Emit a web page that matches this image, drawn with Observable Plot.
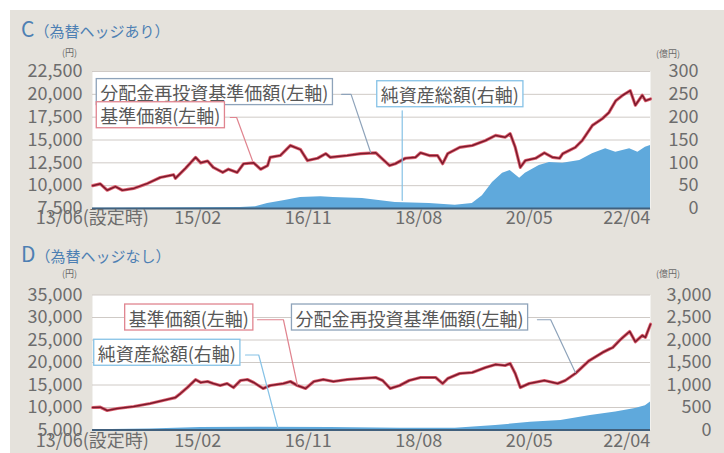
<!DOCTYPE html>
<html><head><meta charset="utf-8">
<script src="https://cdn.jsdelivr.net/npm/d3@7"></script>
<script src="https://cdn.jsdelivr.net/npm/@observablehq/plot@0.6"></script>
<style>
body{margin:0;background:#fff;font-family:"Noto Sans CJK JP","Noto Sans",sans-serif;}
#fig{position:relative;width:724px;height:453px;overflow:hidden;background:#fff}
.layer{position:absolute;left:0;top:0}
.t{position:absolute;white-space:nowrap;line-height:1}
.u{position:absolute;font-size:9px;color:#6a6a6a;line-height:12px;white-space:nowrap}
</style></head>
<body>
<div id="fig">
  <div style="position:absolute;left:10px;top:10px;right:0;bottom:0;background:#e5e2dc"></div>
  <div id="pc" style="position:absolute;left:0;top:0;width:724px;height:230px"></div>
  <div id="pd" style="position:absolute;left:0;top:230px;width:724px;height:223px"></div>
  <div class="t" style="left:21px;top:18px;color:#4d7fb3"><span style="font-size:21px">C</span><span style="font-size:15px">（為替ヘッジあり）</span></div>
  <div class="t" style="left:21px;top:243px;color:#4d7fb3"><span style="font-size:21px">D</span><span style="font-size:15px">（為替ヘッジなし）</span></div>
  <div class="u" style="left:62px;top:47px">(円)</div>
  <div class="u" style="left:656px;top:48px">(億円)</div>
  <div class="u" style="left:62px;top:268px">(円)</div>
  <div class="u" style="left:656px;top:268px">(億円)</div>
</div>
<script>
// ---- data (dates as decimal years) ----
const cNavT = [2013.42,2013.54,2013.65,2013.78,2013.89,2014.07,2014.29,2014.49,2014.70,2014.73,2014.89,2015.05,2015.13,2015.24,2015.33,2015.48,2015.57,2015.71,2015.81,2015.97,2016.08,2016.19,2016.23,2016.39,2016.55,2016.71,2016.82,2016.98,2017.11,2017.18,2017.45,2017.66,2017.90,2018.12,2018.21,2018.37,2018.53,2018.61,2018.75,2018.88,2018.96,2019.04,2019.23,2019.43,2019.64,2019.80,2019.95,2020.03,2020.11,2020.19,2020.27,2020.43,2020.57,2020.70,2020.81,2020.86,2021.06,2021.17,2021.33,2021.49,2021.59,2021.70,2021.81,2021.93,2022.01,2022.12,2022.17,2022.25];
const cNav = [10000,10200,9500,9900,9500,9700,10250,10900,11200,10800,11900,13100,12500,12700,12000,11450,11800,11450,12400,12500,11800,12200,13100,13300,14400,13950,12750,13000,13500,13100,13300,13500,13600,12200,12400,13000,13100,13600,13300,13300,12400,13500,14200,14400,14950,15500,15300,15700,14200,12000,12750,13000,13600,13100,13000,13500,14200,14950,16600,17350,18000,19300,19900,20400,18800,19900,19300,19500];
const cNavReinvested = cNav.slice(); // no distributions: identical to 基準価額
const cAssetT = [2013.42,2014.33,2015.13,2015.76,2016.00,2016.19,2016.44,2016.71,2017.03,2017.23,2017.69,2018.21,2018.75,2019.16,2019.43,2019.59,2019.75,2019.91,2020.03,2020.18,2020.27,2020.49,2020.65,2020.86,2021.13,2021.33,2021.54,2021.70,2021.92,2022.05,2022.17,2022.25];
const cAssets = [0.5,1,1.5,2,4,11,17,24,26,24,22,13,11,7,11,28,57,77,83,66,77,94,101,99,105,120,131,123,131,123,134,138];

const dNavT = [2013.42,2013.54,2013.65,2013.81,2014.07,2014.33,2014.60,2014.73,2014.81,2014.92,2015.05,2015.13,2015.24,2015.33,2015.44,2015.55,2015.65,2015.76,2015.87,2015.97,2016.12,2016.23,2016.44,2016.55,2016.66,2016.79,2016.92,2017.07,2017.23,2017.45,2017.66,2017.90,2018.01,2018.13,2018.28,2018.43,2018.61,2018.85,2018.96,2019.04,2019.23,2019.43,2019.64,2019.80,2019.95,2020.03,2020.11,2020.19,2020.33,2020.57,2020.78,2020.90,2021.06,2021.28,2021.49,2021.60,2021.65,2021.76,2021.81,2021.92,2022.01,2022.12,2022.17,2022.25];
const dNav = [10000,10070,9330,9780,10220,10900,11780,12200,13100,14440,16200,15560,15780,15330,14900,15330,14440,16000,16220,15560,14220,14890,15330,15780,14890,14220,15780,16220,15780,16220,16440,16670,16000,14220,14890,16000,16670,16670,15330,16440,17560,17780,18890,19560,19330,19780,17560,14440,15330,16000,15330,16000,17560,20440,22220,23000,23300,24900,25560,26900,24600,26000,25600,28500];
const dNavReinvested = dNav.slice();
const dAssetT = [2013.42,2014.33,2014.73,2015.13,2016.08,2017.18,2018.28,2019.16,2019.80,2020.35,2020.83,2021.30,2021.70,2022.01,2022.17,2022.25];
const dAssets = [5,20,40,55,60,55,40,40,100,170,210,320,400,480,540,620];

const xTickDates = ["2013-06","2015-02","2016-11","2018-08","2020-05","2022-04"];
const xTickLabels = ["13/06(設定時)","15/02","16/11","18/08","20/05","22/04"];
const cLeftTicks = [7500,10000,12500,15000,17500,20000,22500];
const cRightTicks = [0,50,100,150,200,250,300];
const dLeftTicks = [5000,10000,15000,20000,25000,30000,35000];
const dRightTicks = [0,500,1000,1500,2000,2500,3000];

const seriesLabels = ["分配金再投資基準価額(左軸)","基準価額(左軸)","純資産総額(右軸)"];

// annotation anchors (data space)
const cCallouts = [
  {label: seriesLabels[0], t: 2013.54, v: 20000, k: 0},
  {label: seriesLabels[1], t: 2013.54, v: 17465, k: 1},
  {label: seriesLabels[2], t: 2017.98, v: 19765, k: 2}
];
const cLeaders = [
  {k:0, pts:[[2017.36,20000],[2017.51,20000],[2017.82,13630]]},
  {k:1, pts:[[2015.60,17465],[2015.70,17465],[2015.95,12750]]},
  {k:2, pts:[[2018.32,18200],[2018.32,8400]]}
];
const dCallouts = [
  {label: seriesLabels[1], t: 2013.99, v: 29500, k: 1},
  {label: seriesLabels[0], t: 2016.63, v: 29500, k: 0},
  {label: seriesLabels[2], t: 2013.50, v: 21667, k: 2}
];
const dLeaders = [
  {k:1, pts:[[2016.03,29500],[2016.44,29500],[2016.66,15000]]},
  {k:0, pts:[[2020.46,29500],[2020.67,29500],[2021.06,17800]]},
  {k:2, pts:[[2015.84,21667],[2016.05,21667],[2016.35,5555]]}
];

// ---- helpers ----
function toDate(dec){const y=Math.floor(dec);const a=Date.UTC(y,0,1),b=Date.UTC(y+1,0,1);return new Date(a+(dec-y)*(b-a));}
function ym(s){const [y,m]=s.split("-").map(Number);return new Date(Date.UTC(y,m-1,1));}
const xDomain=[toDate(2013.417),toDate(2022.25)];
const boxColors=["#8ea3ba","#e0848f","#86c2e6"];
const FONT='"Noto Sans CJK JP","Noto Sans",sans-serif';
const fmt=d3.format(",");

function addBoxes(svg, items){
  const gs=[...svg.querySelectorAll("g")].filter(g=>g.querySelectorAll(":scope > text").length===items.length &&
    [...g.querySelectorAll(":scope > text")].every((t,i)=>t.textContent===items[i].label));
  const g=gs[gs.length-1];
  if(!g) return;
  g.querySelectorAll(":scope > text").forEach((t,i)=>{
    const b=t.getBBox();const h=26,px=4;
    const r=document.createElementNS("http://www.w3.org/2000/svg","rect");
    r.setAttribute("x",b.x-px);r.setAttribute("y",b.y+b.height/2-h/2-0.5);
    r.setAttribute("width",b.width+2*px);r.setAttribute("height",h);
    r.setAttribute("fill","#fff");r.setAttribute("stroke",boxColors[items[i].k]);r.setAttribute("stroke-width","1.3");
    const tr=t.getAttribute("transform");if(tr)r.setAttribute("transform",tr);
    t.parentNode.insertBefore(r,t);
  });
}

function panel(el, o){
  const dims={width:724,height:o.height,marginTop:o.mt,marginBottom:o.mb,marginLeft:92,marginRight:74};
  const style={background:"transparent",fontFamily:FONT,fontSize:"18px",color:"#6d6d6d",overflow:"visible"};
  const assets=o.assetT.map((t,i)=>({date:toDate(t),v:o.assets[i]}));
  const nav=o.navT.map((t,i)=>({date:toDate(t),v:o.nav[i]}));
  const navR=o.navT.map((t,i)=>({date:toDate(t),v:o.navR[i]}));
  const bottom=Plot.plot({...dims,style,
    x:{type:"utc",domain:xDomain,axis:null},
    y:{domain:[o.rightTicks[0],o.rightTicks[o.rightTicks.length-1]],label:null},
    marks:[
      Plot.frame({fill:"#fff",stroke:null}),
      Plot.ruleY(o.rightTicks,{stroke:"#cfcac6",strokeWidth:1}),
      Plot.areaY(assets,{x:"date",y:"v",fill:"#5fa9dc",curve:"linear"}),
      Plot.ruleY([o.rightTicks[0]],{stroke:"#41607d",strokeWidth:2.2}),
      Plot.axisY(o.rightTicks,{anchor:"right",label:null,tickSize:0,textAnchor:"end",dx:o.rdx,tickFormat:fmt,fill:"#6d6d6d"})
    ]});
  const leaders=o.leaders.flatMap(l=>l.pts.map(p=>({id:l.k,date:toDate(p[0]),v:p[1]})));
  const top=Plot.plot({...dims,style,
    x:{type:"utc",domain:xDomain,axis:null},
    y:{domain:[o.leftTicks[0],o.leftTicks[o.leftTicks.length-1]],label:null},
    marks:[
      Plot.line(nav,{x:"date",y:"v",stroke:"#df6574",strokeWidth:3.2,strokeLinejoin:"round"}),
      Plot.line(navR,{x:"date",y:"v",stroke:"#7c1a2c",strokeWidth:1.5,strokeLinejoin:"round"}),
      Plot.line(leaders,{x:"date",y:"v",z:"id",stroke:d=>boxColors[d.id],strokeWidth:1.2,curve:"linear"}),
      Plot.axisY(o.leftTicks,{anchor:"left",label:null,tickSize:0,tickPadding:10,tickFormat:fmt,fill:"#6d6d6d"}),
      Plot.text(xTickDates.slice(0,-1),{x:d=>ym(d),text:(d,i)=>xTickLabels[i],frameAnchor:"bottom",dy:o.xdy,fill:"#6d6d6d"}),
      Plot.text(xTickDates.slice(-1),{x:d=>ym(d),text:()=>xTickLabels[xTickLabels.length-1],frameAnchor:"bottom",dy:o.xdy,textAnchor:"end",fill:"#6d6d6d"}),
      Plot.text(o.callouts,{x:d=>toDate(d.t),y:"v",text:"label",textAnchor:"start",fill:"#585858",fontSize:18})
    ]});
  bottom.classList.add("layer");top.classList.add("layer");
  el.appendChild(bottom);el.appendChild(top);
  addBoxes(top,o.callouts);
}

panel(document.getElementById("pc"),{height:230,mt:71,mb:22,navT:cNavT,nav:cNav,navR:cNavReinvested,assetT:cAssetT,assets:cAssets,
  leftTicks:cLeftTicks,rightTicks:cRightTicks,rdx:39,xdy:15,callouts:cCallouts,leaders:cLeaders});
panel(document.getElementById("pd"),{height:223,mt:64.5,mb:23.5,navT:dNavT,nav:dNav,navR:dNavReinvested,assetT:dAssetT,assets:dAssets,
  leftTicks:dLeftTicks,rightTicks:dRightTicks,rdx:52,xdy:17,callouts:dCallouts,leaders:dLeaders});
</script>
</body></html>
